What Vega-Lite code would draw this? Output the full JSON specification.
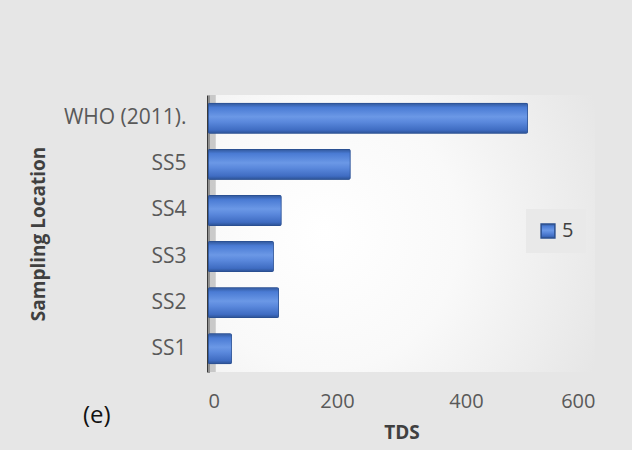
{
  "$schema": "https://vega.github.io/schema/vega-lite/v6.json",
  "width": 387,
  "height": 277,
  "autosize": {"type": "none"},
  "padding": {"left": 208, "top": 95, "right": 37, "bottom": 78},
  "background": "#e6e6e6",
  "title": {"text": "(e)", "orient": "bottom", "anchor": "start", "frame": "group", "align": "left", "baseline": "middle", "dx": -125, "dy": -30, "fontSize": 24, "fontWeight": "normal", "color": "#111111", "font": "Open Sans"},
  "layer": [
    {
      "data": {"values": [{}]},
      "mark": {"type": "rect", "color": "#b5b5b5", "opacity": 0.7},
      "encoding": {
        "x": {"datum": 0, "type": "quantitative"},
        "x2": {"datum": 12}
      }
    },
    {
      "data": {"values": [
        {"location": "SS1", "tds": 37, "series": "5"},
        {"location": "SS2", "tds": 110, "series": "5"},
        {"location": "SS3", "tds": 102, "series": "5"},
        {"location": "SS4", "tds": 114, "series": "5"},
        {"location": "SS5", "tds": 221, "series": "5"},
        {"location": "WHO (2011).", "tds": 496, "series": "5"}
      ]},
      "mark": {"type": "bar", "strokeWidth": 1.5, "cornerRadius": 2,
               "fill": {"gradient": "linear", "x1": 0, "y1": 0, "x2": 0, "y2": 1, "stops": [{"offset": 0, "color": "#2f5597"}, {"offset": 0.15, "color": "#4a7bd4"}, {"offset": 0.45, "color": "#6b98e6"}, {"offset": 0.62, "color": "#5a88dc"}, {"offset": 0.88, "color": "#3f6cc2"}, {"offset": 1, "color": "#2a4f90"}]}},
      "encoding": {
        "y": {"field": "location", "type": "nominal", "sort": ["WHO (2011).", "SS5", "SS4", "SS3", "SS2", "SS1"],
              "scale": {"paddingInner": 0.33, "paddingOuter": 0.17},
              "axis": {"title": "Sampling Location", "labelPadding": 22, "titlePadding": 15, "labelFontSize": 21}},
        "x": {"field": "tds", "type": "quantitative", "scale": {"domain": [0, 600], "nice": false},
              "axis": {"title": "TDS", "values": [0, 200, 400, 600], "labelPadding": 19, "titlePadding": 12}},
        "stroke": {"field": "series", "type": "nominal", "scale": {"range": ["#2a4f90"]},
                  "legend": {"orient": "none", "legendX": 318, "legendY": 114, "title": null, "symbolType": "square", "symbolSize": 190, "symbolFillColor": "#4f7fd3", "symbolStrokeWidth": 1.5, "symbolOpacity": 1, "labelFontSize": 20, "labelColor": "#404040", "labelFont": "Open Sans", "fillColor": "#e9e9e9", "padding": 12}}
      }
    }
  ],
  "config": {
    "view": {"stroke": null, "fill": {"gradient": "radial", "x1": 0.3, "y1": 0.5, "x2": 0.3, "y2": 0.5, "r1": 0, "r2": 0.78, "stops": [{"offset": 0, "color": "#ffffff"}, {"offset": 0.45, "color": "#f9f9f9"}, {"offset": 1, "color": "#e6e6e6"}]}},
    "axis": {"labelFont": "Open Sans", "titleFont": "Open Sans", "labelFontSize": 20, "labelColor": "#595959", "titleFontSize": 19, "titleColor": "#404040", "titleFontWeight": "bold", "ticks": false, "grid": false},
    "axisY": {"domainColor": "#3a3a3a", "domainWidth": 3},
    "axisX": {"domain": false}
  }
}
